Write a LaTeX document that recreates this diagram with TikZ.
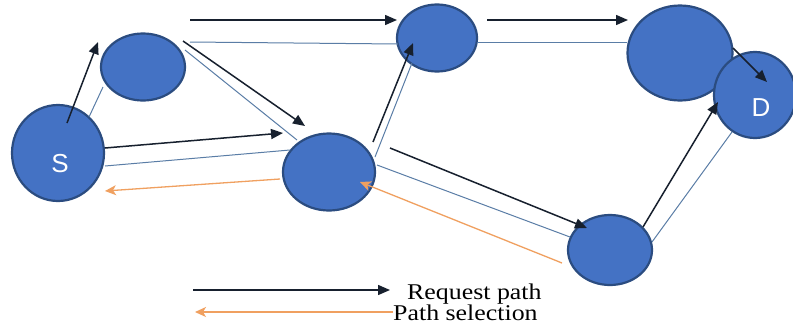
\documentclass[tikz,border=0pt]{standalone}
\usepackage{fontspec}
\setmainfont{Liberation Serif}
\newfontfamily\legendfont[FakeStretch=1.15]{Liberation Serif}
\newfontfamily\lblfont{Liberation Sans}
\usetikzlibrary{arrows.meta,shapes.geometric}
\definecolor{nodefill}{HTML}{4472C4}
\definecolor{nodeline}{HTML}{2B4C80}
\definecolor{reqc}{HTML}{17202E}
\definecolor{lnkc}{HTML}{5A7DA6}
\definecolor{selc}{HTML}{F0A060}
\begin{document}
\begin{tikzpicture}[x=1pt,y=-1pt,
  nd/.style={ellipse,draw=nodeline,fill=nodefill,line width=2.2pt,inner sep=0pt},
  reqarrow/.style={draw=reqc,line width=1.5pt,-{Triangle[length=12pt,width=10pt]}},
  link/.style={draw=lnkc,line width=1pt},
  selarrow/.style={draw=selc,line width=1.3pt,-{Stealth[length=11pt,width=10pt,inset=3pt]}},
  lbl/.style={text=white,font=\lblfont\fontsize{26}{26}\selectfont,inner sep=0pt},
  legtext/.style={font=\legendfont\fontsize{22.5}{24}\selectfont,inner sep=0pt,text=black}
]
\useasboundingbox (0,0) rectangle (793,330);
\fill[white] (0,0) rectangle (793,330);

% nodes
\node[nd,minimum width=92pt,minimum height=96pt] (S) at (58,153) {};
\node[nd,minimum width=84pt,minimum height=67pt] (A) at (143,67) {};
\node[nd,minimum width=92pt,minimum height=77pt] (B) at (329,172) {};
\node[nd,minimum width=80pt,minimum height=67pt] (C) at (437,38) {};
\node[nd,minimum width=105pt,minimum height=95pt] (E) at (680,53) {};
\node[nd,minimum width=82pt,minimum height=86pt] (D) at (755,95) {};
\node[nd,minimum width=84pt,minimum height=70pt] (F) at (610,250) {};

\node[lbl] (Slbl) at (60,164) {S};
\node[lbl] (Dlbl) at (761,108) {D};

% S -> A
\draw[link] ([shift={(31,-36)}]S.center) -- ([shift={(-40,20)}]A.center);
\draw[reqarrow] ([shift={(9,-30)}]S.center) -- ([shift={(-45,-25)}]A.center);
% A -> B
\draw[link] ([shift={(42,-17)}]A.center) -- ([shift={(-32,-32)}]B.center);
\draw[reqarrow] ([shift={(40,-26)}]A.center) -- ([shift={(-24,-46)}]B.center);
% A -> C
\draw[link] ([shift={(47,-25)}]A.center) -- ([shift={(-39,6)}]C.center);
\draw[reqarrow] ([shift={(47,-47)}]A.center) -- ([shift={(-40,-18)}]C.center);
% S -> B
\draw[link] ([shift={(47,13)}]S.center) -- ([shift={(-39,-22)}]B.center);
\draw[reqarrow] ([shift={(47,-5)}]S.center) -- ([shift={(-46,-39)}]B.center);
% B -> S (selection)
\draw[selarrow] ([shift={(-49,7)}]B.center) -- ([shift={(47,38)}]S.center);
% B -> C
\draw[link] ([shift={(46,-15)}]B.center) -- ([shift={(-25,25)}]C.center);
\draw[reqarrow] ([shift={(44,-30)}]B.center) -- ([shift={(-24,5)}]C.center);
% C -> E
\draw[link] ([shift={(40,4)}]C.center) -- ([shift={(-53,-11)}]E.center);
\draw[reqarrow] ([shift={(50,-18)}]C.center) -- ([shift={(-52,-33)}]E.center);
% E -> D
\draw[reqarrow] ([shift={(53,-5)}]E.center) -- ([shift={(12,-13)}]D.center);
% B -> F
\draw[link] ([shift={(48,-7)}]B.center) -- ([shift={(-40,-13)}]F.center);
\draw[reqarrow] ([shift={(61,-24)}]B.center) -- ([shift={(-23,-22)}]F.center);
% F -> B (selection)
\draw[selarrow] ([shift={(-48,13)}]F.center) -- ([shift={(31,10)}]B.center);
% F -> D
\draw[link] ([shift={(42,-8)}]F.center) -- ([shift={(-23,37)}]D.center);
\draw[reqarrow] ([shift={(33,-23)}]F.center) -- ([shift={(-37,7)}]D.center);

% legend
\node[legtext,anchor=base west] (lreq) at (407,299) {Request path};
\node[legtext,anchor=base west] (lsel) at (393,320) {Path selection};
\coordinate (lreqstart) at (193,290);
\coordinate (lselend) at (195,312);
\draw[reqarrow] (lreqstart) -- ([shift={(-17,-9)}]lreq.base west);
\draw[selarrow] ([shift={(0,-8)}]lsel.base west) -- (lselend);
\end{tikzpicture}
\end{document}
